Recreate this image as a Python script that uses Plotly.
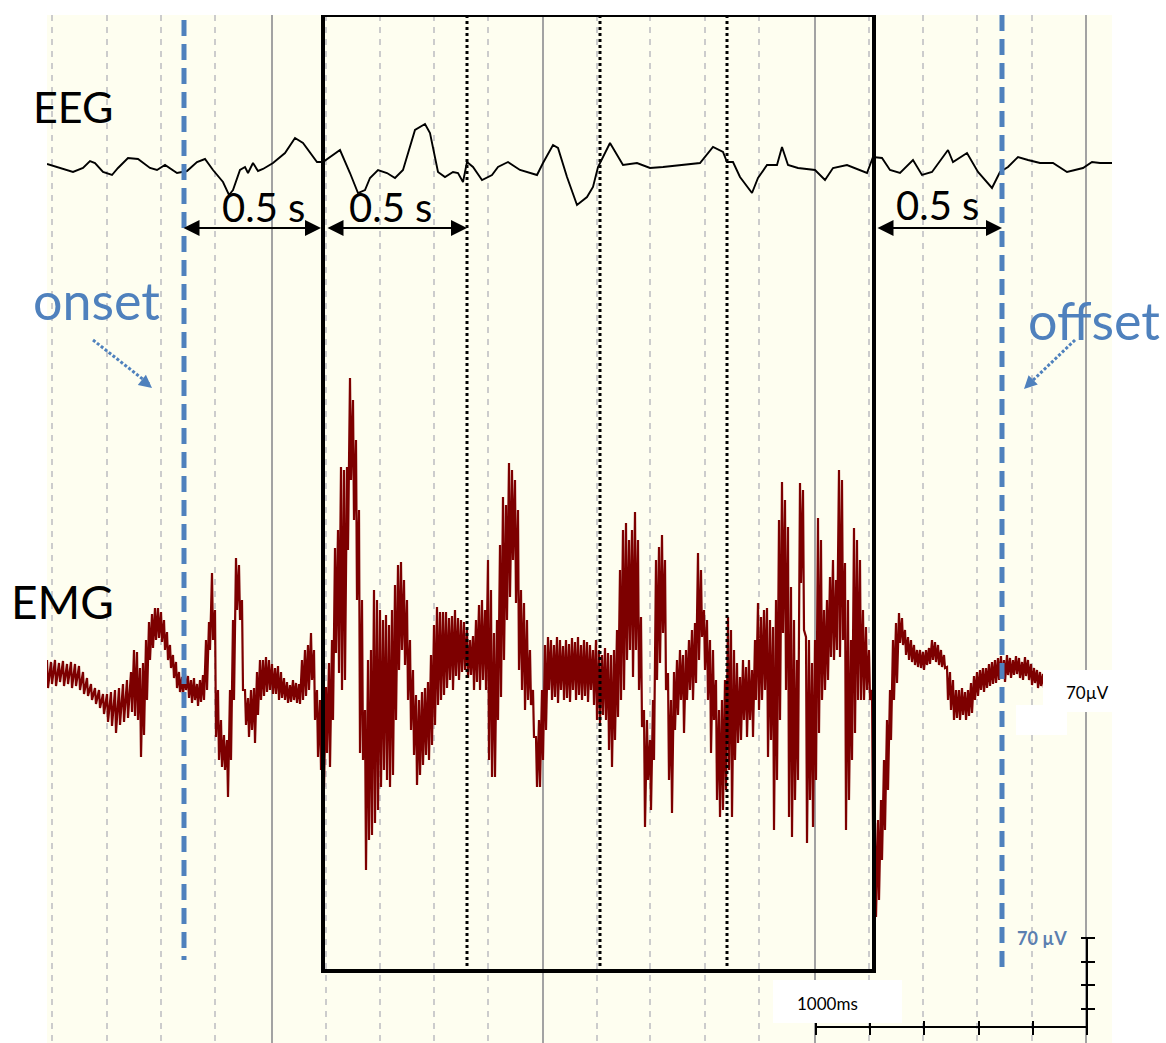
import plotly.graph_objects as go

# ---------------- data (time axis in screen-time units, amplitude axis downward) -------------
eeg_t = [47,60,73,83,90,95,103,112,118,128,138,150,157,165,177,187,197,205,213,223,
         229,233,240,245,248,253,258,263,273,285,295,303,310,317,323,333,340,350,358,365,
         370,378,387,395,403,415,425,430,438,445,453,458,463,467,473,482,492,498,508,520,
         537,543,553,558,567,577,587,593,598,610,623,637,650,663,683,700,713,723,727,733,
         740,752,758,767,777,782,788,798,815,825,833,847,867,873,882,890,900,913,922,932,
         948,953,967,978,992,1000,1008,1018,1028,1040,1053,1067,1083,1092,1100,1112]
eeg_v = [164,168,172,168,161,163,172,175,168,158,159,168,170,165,173,171,162,159,170,182,
         195,190,170,167,173,163,171,169,163,153,138,143,152,162,162,155,150,173,193,190,
         178,170,173,178,170,130,124,133,172,177,172,173,182,162,167,180,175,167,162,170,
         175,163,145,148,177,205,197,187,167,143,165,163,168,167,165,163,147,152,162,162,
         177,193,178,165,165,147,165,168,170,180,168,165,173,157,158,170,173,160,175,172,
         150,162,153,172,188,172,167,157,160,163,163,172,168,162,163,163]

emg_t = list(range(47, 132, 4)) + list(range(134, 1044, 3))
emg_hi = [
    660,662,660,663,661,664,662,664,666,672,678,684,688,690,694,694,692,690,688,684,680,672,
    650,652,668,663,640,622,614,608,608,612,620,632,645,655,662,672,677,674,676,680,
    678,684,680,675,640,622,573,610,690,720,735,740,690,620,558,565,600,690,698,690,
    688,672,660,660,657,660,664,668,666,672,678,682,685,680,683,684,660,650,645,633,
    650,690,700,690,687,663,640,548,530,467,470,467,
    378,400,440,510,600,710,660,650,590,600,610,620,615,625,610,585,565,562,580,600,
    640,670,695,700,692,688,682,655,625,607,612,612,612,618,616,610,618,620,622,630,
    640,636,620,605,600,610,560,590,633,620,545,497,505,463,470,480,510,590,603,620,
    650,690,737,720,690,645,637,640,645,637,640,646,640,644,638,642,637,645,640,642,
    645,650,640,650,655,648,653,655,650,630,570,530,523,540,530,512,540,617,710,720,
    740,700,560,547,535,560,673,700,672,660,650,655,650,640,630,623,553,570,610,620,
    640,650,680,710,700,680,617,630,650,663,677,660,667,660,670,640,603,617,610,608,
    620,627,600,520,482,500,527,587,620,660,483,490,637,640,663,640,518,540,610,600,
    577,560,580,470,480,563,600,640,528,540,560,610,627,650,690,
    823,820,800,760,720,690,640,623,613,618,630,637,640,645,650,650,652,650,648,640,
    642,645,650,655,667,672,680,690,690,688,692,690,683,676,672,670,668,668,664,662,
    660,658,656,660,655,658,660,656,658,662,657,660,664,668,670,672,674]
emg_lo = [
    688,684,686,682,686,684,688,686,690,694,696,700,704,708,714,722,726,733,725,722,718,712,
    716,720,757,735,700,660,648,640,638,642,650,660,668,678,688,692,694,690,698,703,
    700,706,702,700,690,650,640,737,760,767,770,797,760,700,610,620,690,725,737,730,
    743,715,700,696,692,690,694,694,700,698,700,703,702,700,703,704,700,696,690,680,
    720,757,770,787,753,767,720,653,673,690,680,550,
    480,520,600,753,760,870,840,835,823,810,787,770,780,787,775,720,670,650,665,700,
    730,755,785,775,765,755,760,745,725,705,700,695,688,680,690,676,680,672,670,678,
    675,690,682,690,680,690,760,777,777,720,697,660,620,597,560,603,670,690,710,700,
    705,737,787,787,760,730,690,700,697,703,690,700,698,702,690,700,695,700,696,702,
    690,705,720,723,715,720,750,767,740,717,700,690,660,650,677,650,690,727,827,780,
    810,760,680,663,633,690,780,813,730,715,700,733,700,690,700,683,660,637,670,700,
    753,720,800,817,810,790,770,817,760,743,740,720,737,720,737,700,710,700,690,757,
    740,830,780,720,633,690,817,837,800,780,583,630,843,800,827,780,733,700,690,680,
    657,660,650,657,640,830,800,760,733,700,700,700,690,700,830,
    917,900,860,830,790,740,700,683,643,645,655,660,662,665,667,668,670,665,664,660,
    662,665,667,668,700,710,720,718,720,715,720,716,713,700,696,690,692,688,686,684,
    683,680,678,682,675,678,675,674,678,680,676,680,685,683,688,686,688]
assert len(emg_t) == len(emg_hi) == len(emg_lo), (len(emg_t), len(emg_hi), len(emg_lo))
assert len(eeg_t) == len(eeg_v)

# event markers / windows
onset_t = 184
offset_t = 1002
window_t = [323, 874]
epoch_t = [467, 600, 727]
grid_major = [272, 543, 815, 1086]
grid_minor = [52, 107, 161, 215, 326, 380, 434, 488, 597, 650, 705, 759, 869, 923, 977, 1032]
scale_x = [816, 870, 924, 979, 1033, 1087]
scale_y = [938, 962, 985, 1009, 1027]

BLUE = "#4f81bd"
FONT = "Lato"

# EMG trace: each sample sweeps from its upper to its lower extreme (sawtooth between samples)
ex, ey = [], []
for t, h, l in zip(emg_t, emg_hi, emg_lo):
    ex += [t, t + 1]
    ey += [h, l]

fig = go.Figure()
fig.add_trace(go.Scatter(x=eeg_t, y=eeg_v, mode="lines",
                         line=dict(color="black", width=1.9), hoverinfo="skip"))
fig.add_trace(go.Scatter(x=ex, y=ey, mode="lines",
                         line=dict(color="#7d0000", width=2.2), hoverinfo="skip"))

# scale bar
sx, sy = [scale_x[0], scale_x[-1], scale_x[-1]], [scale_y[-1], scale_y[-1], scale_y[0]]
fig.add_trace(go.Scatter(x=sx, y=sy, mode="lines", line=dict(color="black", width=2),
                         hoverinfo="skip"))
for xv in scale_x:
    fig.add_shape(type="line", x0=xv, x1=xv, y0=scale_y[-1] - 6, y1=scale_y[-1] + 8,
                  line=dict(color="black", width=2))
for yv in scale_y[:-1]:
    fig.add_shape(type="line", x0=scale_x[-1] - 6, x1=scale_x[-1] + 8, y0=yv, y1=yv,
                  line=dict(color="black", width=2))

# white label boxes
fig.add_shape(type="rect", x0=773, x1=902, y0=980, y1=1023, fillcolor="white",
              line=dict(width=0), layer="above")
fig.add_shape(type="rect", x0=1043, x1=1112, y0=670, y1=712, fillcolor="white",
              line=dict(width=0), layer="above")
fig.add_shape(type="rect", x0=1016, x1=1067, y0=705, y1=735, fillcolor="white",
              line=dict(width=0), layer="above")

# window box and epoch dotted lines
fig.add_shape(type="rect", x0=window_t[0], x1=window_t[1], y0=15, y1=971,
              line=dict(color="black", width=4), layer="above")
for xv in epoch_t:
    fig.add_shape(type="line", x0=xv, x1=xv, y0=15, y1=971,
                  line=dict(color="black", width=3, dash="3px,3px"), layer="above")

# onset / offset dashed lines
fig.add_shape(type="line", x0=onset_t, x1=onset_t, y0=20, y1=960,
              line=dict(color=BLUE, width=5, dash="16px,8px"), layer="above")
fig.add_shape(type="line", x0=offset_t, x1=offset_t, y0=15, y1=970,
              line=dict(color=BLUE, width=5, dash="16px,8px"), layer="above")

# double-headed 0.5 s arrows
for a, b in [(onset_t - 2, window_t[0] - 2), (window_t[0] + 3, epoch_t[0]), (window_t[1] + 2, offset_t)]:
    fig.add_annotation(x=b, y=228, ax=a, ay=228, xref="x", yref="y", axref="x", ayref="y",
                       text="", showarrow=True, arrowhead=2, startarrowhead=2,
                       arrowside="end+start", arrowwidth=2, arrowsize=1.6,
                       startarrowsize=1.6, arrowcolor="black")
for xc, yc in [(263, 207), (390, 207), (937, 205)]:
    fig.add_annotation(x=xc, y=yc, text="0.5 s", showarrow=False,
                       font=dict(family=FONT, size=40, color="black"))

# small dotted arrows
for (x0, y0, x1, y1) in [(93, 340, 149, 384), (1075, 340, 1028, 385)]:
    fig.add_shape(type="line", x0=x0, y0=y0, x1=x1, y1=y1,
                  line=dict(color=BLUE, width=3, dash="3px,2px"), layer="above")
fig.add_annotation(x=152, y=388, ax=142, ay=380, xref="x", yref="y", axref="x", ayref="y",
                   text="", showarrow=True, arrowhead=2, arrowwidth=2, arrowsize=1.3,
                   arrowcolor=BLUE)
fig.add_annotation(x=1024, y=389, ax=1033, ay=380, xref="x", yref="y", axref="x", ayref="y",
                   text="", showarrow=True, arrowhead=2, arrowwidth=2, arrowsize=1.3,
                   arrowcolor=BLUE)

# labels
fig.add_annotation(x=73, y=106, text="EEG", showarrow=False,
                   font=dict(family=FONT, size=43, color="black"))
fig.add_annotation(x=62, y=601, text="EMG", showarrow=False,
                   font=dict(family=FONT, size=46, color="black"))
fig.add_annotation(x=96, y=300, text="onset", showarrow=False,
                   font=dict(family=FONT, size=52, color=BLUE))
fig.add_annotation(x=1094, y=320, text="offset", showarrow=False,
                   font=dict(family=FONT, size=52, color=BLUE))
fig.add_annotation(x=827, y=1003, text="1000ms", showarrow=False,
                   font=dict(family=FONT, size=17, color="black"))
fig.add_annotation(x=1087, y=692, text="70µV", showarrow=False,
                   font=dict(family=FONT, size=17, color="black"))
fig.add_annotation(x=1042, y=938, text="<b>70 µV</b>", showarrow=False,
                   font=dict(family=FONT, size=18, color="#5b7fb0"))

fig.update_layout(
    width=1166, height=1043,
    margin=dict(l=47, r=54, t=15, b=0),
    paper_bgcolor="white", plot_bgcolor="#fefef0",
    showlegend=False,
    xaxis=dict(range=[47, 1112], tickmode="array", tickvals=grid_major,
               showgrid=True, gridcolor="#a3a3a3", gridwidth=2,
               showticklabels=False, ticks="", zeroline=False, showline=False,
               minor=dict(tickmode="array", tickvals=grid_minor, showgrid=True,
                          gridcolor="#cccccc", gridwidth=2, griddash="6px,6px")),
    yaxis=dict(range=[1043, 15], showgrid=False, showticklabels=False, ticks="",
               zeroline=False, showline=False),
)

fig.write_html("out.html", config={"displayModeBar": False},
               post_script="document.body.style.margin='0';document.body.style.overflow='hidden';")
